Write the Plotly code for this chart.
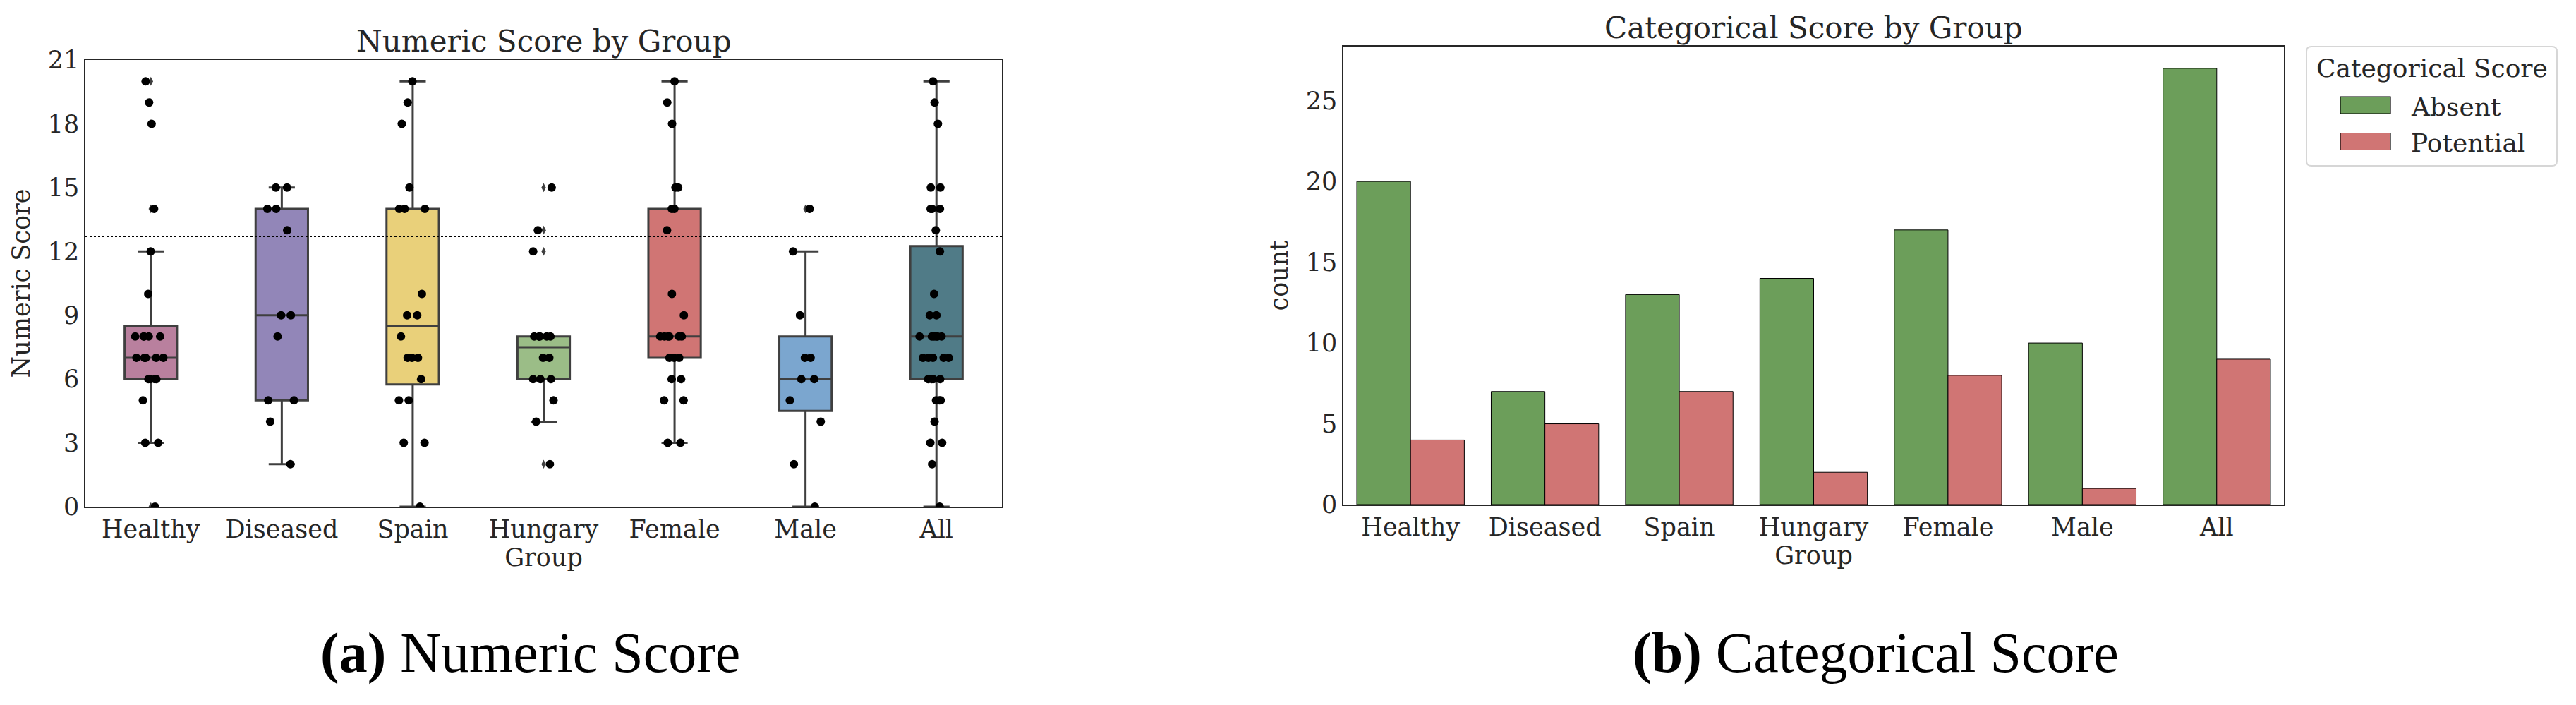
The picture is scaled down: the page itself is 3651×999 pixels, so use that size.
import numpy as np
import plotly.graph_objects as go

# ---------------- data ----------------
groups = ["Healthy", "Diseased", "Spain", "Hungary", "Female", "Male", "All"]

score_healthy = [0, 3, 3, 5, 6, 6, 6, 6, 7, 7, 7, 7, 7, 8, 8, 8, 8, 8, 10, 12, 14, 18, 19, 20]
score_diseased = [2, 4, 5, 5, 8, 9, 9, 13, 14, 14, 15, 15]
score_spain = [0, 3, 3, 5, 5, 6, 7, 7, 7, 8, 9, 9, 10, 14, 14, 14, 15, 18, 19, 20]
score_hungary = [2, 4, 5, 6, 6, 6, 7, 7, 8, 8, 8, 8, 8, 12, 13, 15]
score_female = [3, 3, 5, 5, 6, 6, 7, 7, 7, 8, 8, 8, 8, 8, 8, 9, 10, 13, 14, 14, 15, 15, 18, 19, 20]
score_male = [0, 2, 4, 5, 6, 6, 7, 7, 9, 12, 14]
score_all = [0, 2, 3, 3, 4, 5, 5, 5, 6, 6, 6, 6, 7, 7, 7, 7, 7, 8, 8, 8, 8, 8, 8,
             9, 9, 10, 12, 13, 14, 14, 14, 15, 15, 18, 19, 20]

threshold = 12.7

categories = ["Absent", "Potential"]
count_absent = [20, 7, 13, 14, 17, 10, 27]
count_potential = [4, 5, 7, 2, 8, 1, 9]

box_colors = ["#B9809E", "#9286B8", "#E9D07A", "#9BBD87", "#D07574", "#7BA6CF", "#507B87"]
bar_colors = ["#6C9E5A", "#D07574"]

scores = [score_healthy, score_diseased, score_spain, score_hungary,
          score_female, score_male, score_all]
counts = [count_absent, count_potential]

FONT = "DejaVu Serif"
TXT = "#262626"
W, H = 3651, 999
OFF = 8  # page body margin of the html page


def px_x(p):
    return (p - OFF) / W


def px_y(p):
    return (H - (p - OFF)) / H


fig = go.Figure()

# ---------------- (a) box + strip ----------------
for g, vals, col in zip(groups, scores, box_colors):
    v = np.asarray(vals, dtype=float)
    q1, med, q3 = np.percentile(v, [25, 50, 75])
    iqr = q3 - q1
    lo_lim, hi_lim = q1 - 1.5 * iqr, q3 + 1.5 * iqr
    lo = v[v >= lo_lim].min()
    hi = v[v <= hi_lim].max()
    out = v[(v < lo_lim) | (v > hi_lim)]
    fig.add_trace(go.Box(
        x=[g], q1=[q1], median=[med], q3=[q3], lowerfence=[lo], upperfence=[hi],
        fillcolor=col, line=dict(color="#3F3F3F", width=3), width=0.4,
        whiskerwidth=0.5, boxpoints=False, showlegend=False,
        xaxis="x", yaxis="y", hoverinfo="skip"))
    if len(out):
        fig.add_trace(go.Box(
            x=[g] * len(out), y=out, boxpoints="all", jitter=0, pointpos=0,
            fillcolor="rgba(0,0,0,0)", line=dict(color="rgba(0,0,0,0)", width=0),
            marker=dict(symbol="diamond-tall", size=9, color="#3F3F3F"),
            width=0.4, showlegend=False, xaxis="x", yaxis="y", hoverinfo="skip"))
    fig.add_trace(go.Box(
        x=[g] * len(v), y=v, boxpoints="all", jitter=0.75, pointpos=0,
        fillcolor="rgba(0,0,0,0)", line=dict(color="rgba(0,0,0,0)", width=0),
        marker=dict(size=12, color="black", line=dict(width=0)),
        width=0.4, showlegend=False, xaxis="x", yaxis="y", hoverinfo="skip"))

fig.add_shape(type="line", xref="x domain", yref="y", x0=0, x1=1, y0=threshold, y1=threshold,
              line=dict(color="black", width=1.5, dash="dot"))

# ---------------- (b) grouped bars ----------------
for name, cnt, col in zip(categories, counts, bar_colors):
    fig.add_trace(go.Bar(x=groups, y=cnt, name=name, showlegend=False,
                         marker=dict(color=col, line=dict(color="black", width=1)),
                         xaxis="x2", yaxis="y2"))

axis_common = dict(showline=True, linecolor=TXT, linewidth=1.5, mirror=True, ticks="",
                   showgrid=False, zeroline=False, automargin=False,
                   tickfont=dict(family=FONT, size=35, color=TXT))
title_font = dict(family=FONT, size=35, color=TXT)

fig.update_layout(
    width=W, height=H, margin=dict(l=0, r=0, t=0, b=0),
    paper_bgcolor="white", plot_bgcolor="white",
    boxmode="overlay", barmode="group", bargap=0.2, bargroupgap=0,
    font=dict(family=FONT, size=35, color=TXT),
    showlegend=False,
    xaxis=dict(domain=[px_x(121), px_x(1420)], anchor="y", type="category",
               categoryorder="array", categoryarray=groups, range=[-0.5, 6.5],
               title=dict(text="Group", font=title_font, standoff=2), **axis_common),
    yaxis=dict(domain=[px_y(718), px_y(85)], anchor="x", range=[0, 21],
               tickvals=list(range(0, 22, 3)),
               title=dict(text="Numeric Score", font=title_font, standoff=14), **axis_common),
    xaxis2=dict(domain=[px_x(1904), px_x(3237)], anchor="y2", type="category",
                categoryorder="array", categoryarray=groups, range=[-0.5, 6.5],
                title=dict(text="Group", font=title_font, standoff=2), **axis_common),
    yaxis2=dict(domain=[px_y(715), px_y(66)], anchor="x2", range=[0, 28.35],
                tickvals=[0, 5, 10, 15, 20, 25],
                title=dict(text="count", font=title_font, standoff=14), **axis_common),
)

# subplot titles
fig.add_annotation(text="Numeric Score by Group", xref="x domain", yref="y domain", x=0.5, y=1,
                   xanchor="center", yanchor="bottom", yshift=0, showarrow=False,
                   font=dict(family=FONT, size=42, color=TXT))
fig.add_annotation(text="Categorical Score by Group", xref="x2 domain", yref="y2 domain", x=0.5, y=1,
                   xanchor="center", yanchor="bottom", yshift=0, showarrow=False,
                   font=dict(family=FONT, size=42, color=TXT))

# ---------------- legend (drawn as a frame with swatches) ----------------
def rounded_rect(x0, y0, x1, y1, r):
    X = lambda p: px_x(p)
    Y = lambda p: px_y(p)
    return (f"M {X(x0 + r)} {Y(y0)} L {X(x1 - r)} {Y(y0)} Q {X(x1)} {Y(y0)} {X(x1)} {Y(y0 + r)} "
            f"L {X(x1)} {Y(y1 - r)} Q {X(x1)} {Y(y1)} {X(x1 - r)} {Y(y1)} "
            f"L {X(x0 + r)} {Y(y1)} Q {X(x0)} {Y(y1)} {X(x0)} {Y(y1 - r)} "
            f"L {X(x0)} {Y(y0 + r)} Q {X(x0)} {Y(y0)} {X(x0 + r)} {Y(y0)} Z")


fig.add_shape(type="path", xref="paper", yref="paper", path=rounded_rect(3269, 66, 3624, 235, 7),
              line=dict(color="#D6D6D6", width=2), fillcolor="white")
fig.add_annotation(text="Categorical Score", xref="paper", yref="paper",
                   x=px_x(3447), y=px_y(96), xanchor="center", yanchor="middle", showarrow=False,
                   font=dict(family=FONT, size=36, color=TXT))
for k, (name, col) in enumerate(zip(categories, bar_colors)):
    yc = 149 + k * 51.5
    fig.add_shape(type="rect", xref="paper", yref="paper",
                  x0=px_x(3317), x1=px_x(3388), y0=px_y(yc + 12), y1=px_y(yc - 12),
                  fillcolor=col, line=dict(color="black", width=1.2))
    fig.add_annotation(text=name, xref="paper", yref="paper",
                       x=px_x(3415), y=px_y(yc + 2), xanchor="left", yanchor="middle",
                       showarrow=False, font=dict(family=FONT, size=36, color=TXT))

# captions
CAP = "Liberation Serif"
fig.add_annotation(text="<b>(a)</b> Numeric Score", xref="paper", yref="paper",
                   x=px_x(751), y=px_y(926), xanchor="center", yanchor="middle",
                   showarrow=False, font=dict(family=CAP, size=80, color="black"))
fig.add_annotation(text="<b>(b)</b> Categorical Score", xref="paper", yref="paper",
                   x=px_x(2658), y=px_y(926), xanchor="center", yanchor="middle",
                   showarrow=False, font=dict(family=CAP, size=80, color="black"))

fig.write_html("out.html")
